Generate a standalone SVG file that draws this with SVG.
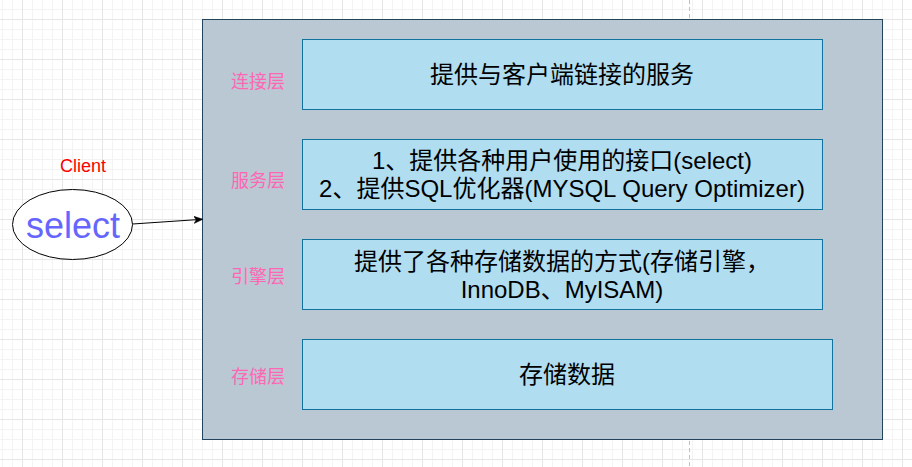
<svg xmlns="http://www.w3.org/2000/svg" width="912" height="467" viewBox="0 0 912 467">
  <defs>
    <pattern id="minor" x="2" y="9" width="10" height="10" patternUnits="userSpaceOnUse">
      <path d="M0.5 0V10M0 0.5H10" stroke="#f3f3f3" stroke-width="1" fill="none"/>
    </pattern>
    <pattern id="major" x="22" y="19" width="40" height="40" patternUnits="userSpaceOnUse">
      <path d="M0.5 0V40M0 0.5H40" stroke="#e6e6e6" stroke-width="1" fill="none"/>
    </pattern>
    <marker id="arrow" viewBox="0 0 10 10" refX="9" refY="5" markerWidth="9" markerHeight="9" markerUnits="userSpaceOnUse" orient="auto">
      <path d="M0 1 L10 5 L0 9 L2.5 5 Z" fill="#000" stroke="#000" stroke-width="0.5"/>
    </marker>
    <style>
      .t { font-family: "Liberation Sans", "Noto Sans CJK SC", sans-serif; }
      .layer { fill: #bac8d3; stroke: #23445d; stroke-width: 1; }
      .box { fill: #b1ddf0; stroke: #10739e; stroke-width: 1; }
      .boxtxt { font-size: 24px; fill: #000; text-anchor: middle; }
      .lbl { font-size: 18px; fill: #ff66b3; text-anchor: middle; }
    </style>
  </defs>
  <rect width="912" height="467" fill="#ffffff"/>
  <rect width="912" height="467" fill="url(#minor)"/>
  <rect width="912" height="467" fill="url(#major)"/>
  <line x1="689.5" y1="0" x2="689.5" y2="467" stroke="#c0c0c0" stroke-width="1" stroke-dasharray="4 3"/>

  <g id="container">
    <rect class="layer" x="202.5" y="19.5" width="680" height="420"/>
  </g>

  <g id="label-connect"><text class="t lbl" x="258" y="88">连接层</text></g>
  <g id="label-service"><text class="t lbl" x="258" y="187">服务层</text></g>
  <g id="label-engine"><text class="t lbl" x="258" y="283">引擎层</text></g>
  <g id="label-storage"><text class="t lbl" x="258" y="383">存储层</text></g>

  <g id="box-connect">
    <rect class="box" x="302.5" y="39.5" width="520" height="70"/>
    <text class="t boxtxt" x="562" y="83">提供与客户端链接的服务</text>
  </g>
  <g id="box-service">
    <rect class="box" x="302.5" y="139.5" width="520" height="70"/>
    <text class="t boxtxt" x="562" y="169">1、提供各种用户使用的接口(select)</text>
    <text class="t boxtxt" x="562" y="197">2、提供SQL优化器(MYSQL Query Optimizer)</text>
  </g>
  <g id="box-engine">
    <rect class="box" x="302.5" y="239.5" width="520" height="70"/>
    <text class="t boxtxt" x="562" y="270">提供了各种存储数据的方式(存储引擎，</text>
    <text class="t boxtxt" x="562" y="298">InnoDB、MyISAM)</text>
  </g>
  <g id="box-storage">
    <rect class="box" x="302.5" y="339.5" width="530" height="70"/>
    <text class="t boxtxt" x="567" y="383">存储数据</text>
  </g>

  <g id="client">
    <text class="t" x="83" y="172" font-size="18" fill="#ff0000" text-anchor="middle">Client</text>
    <ellipse cx="72.5" cy="224.5" rx="60" ry="35" fill="#ffffff" stroke="#000000" stroke-width="1"/>
    <text class="t" x="73" y="238" font-size="36" fill="#6666ff" text-anchor="middle">select</text>
  </g>

  <g id="connectors">
    <line x1="132.5" y1="224" x2="202" y2="219.3" stroke="#000" stroke-width="1" marker-end="url(#arrow)"/>
  </g>
</svg>
